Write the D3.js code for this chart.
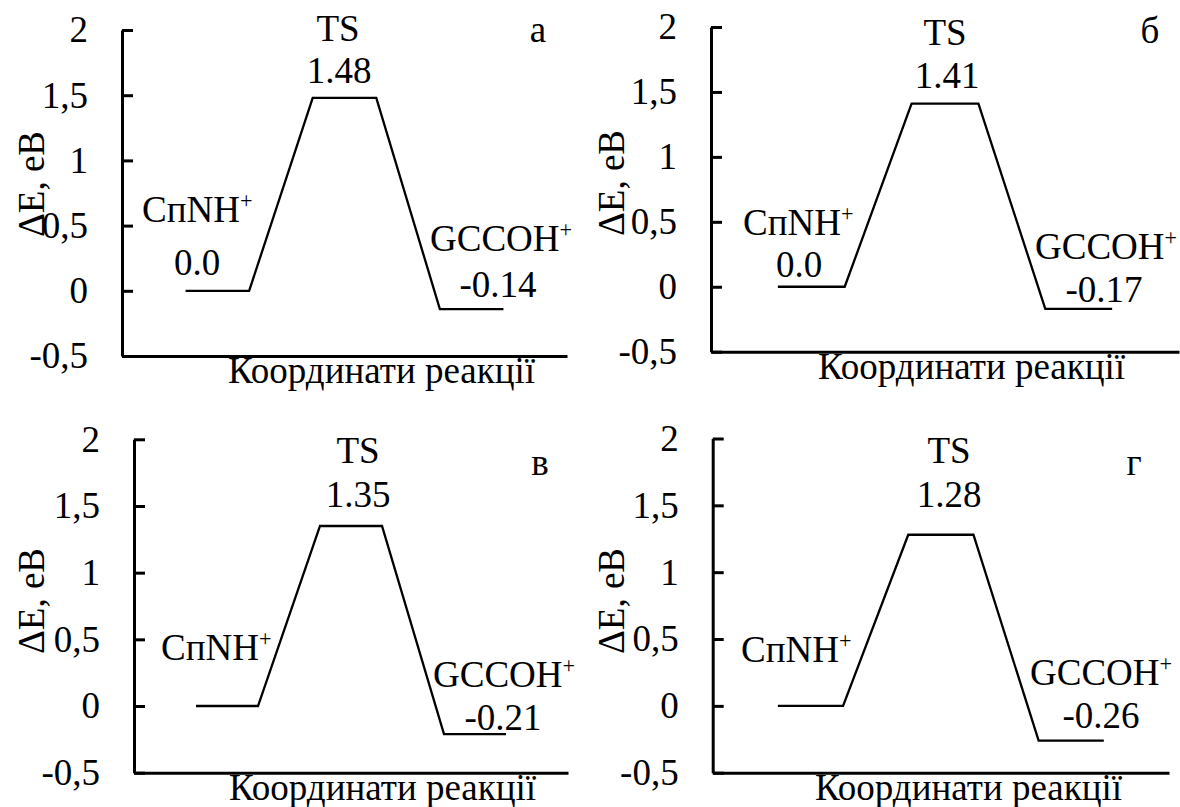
<!DOCTYPE html>
<html>
<head>
<meta charset="utf-8">
<script src="https://cdn.jsdelivr.net/npm/d3@7"></script>
<style>
  html, body { margin: 0; padding: 0; background: #fff; }
  svg { display: block; }
</style>
</head>
<body>
<svg id="chart" width="1180" height="807"></svg>
<script>
// data
const panelLetters = ['а', 'б', 'в', 'г']
const reactantValues = [0, 0, 0, 0]
const tsValues = [1.48, 1.41, 1.35, 1.28]
const productValues = [-0.14, -0.17, -0.21, -0.26]
const reactantLabels = ['0.0', '0.0', null, null]
const yTicks = [-0.5, 0, 0.5, 1, 1.5, 2]
const yTickLabels = ['-0,5', '0', '0,5', '1', '1,5', '2']
const yTitle = 'ΔE, eB'
const xTitle = 'Координати реакції'

// layout of each panel (plot box + text boxes)
const layouts = [
  { x0: 122, x1: 567, yTop: 30, yBot: 356, yT: [44, 184],
    ts: [338, 41], tsVal: [339, 83], letter: [538, 42],
    react: [142, 222], reactVal: [197, 275], prod: [430, 251], prodVal: [498, 297], xT: [228, 383] },
  { x0: 711, x1: 1179, yTop: 27, yBot: 351.7, yT: [624, 183],
    ts: [945, 45], tsVal: [947, 88], letter: [1150, 43],
    react: [743, 235], reactVal: [799, 277], prod: [1035, 259], prodVal: [1104, 302], xT: [818, 379] },
  { x0: 134, x1: 568, yTop: 439.3, yBot: 772.7, yT: [44, 601],
    ts: [358, 463], tsVal: [358, 507], letter: [540, 475],
    react: [161, 660], reactVal: null, prod: [433, 687], prodVal: [503, 730], xT: [229, 800] },
  { x0: 712.7, x1: 1169, yTop: 438.5, yBot: 772.7, yT: [624, 601],
    ts: [949, 463], tsVal: [949, 507], letter: [1134, 475],
    react: [741, 662], reactVal: null, prod: [1030, 685], prodVal: [1101, 728], xT: [815, 800] }
]

const fontSize = 37
const serif = '"Liberation Serif", "Times New Roman", serif'
const svg = d3.select('#chart')
svg.append('rect').attr('width', 1180).attr('height', 807).attr('fill', '#fff')

function label(g, text, pos, anchor) {
  return g.append('text')
    .attr('x', pos[0]).attr('y', pos[1])
    .attr('text-anchor', anchor || 'start')
    .style('font-family', serif)
    .style('font-size', fontSize + 'px')
    .attr('fill', '#000')
    .text(text)
}

function superLabel(g, text, pos) {
  const t = label(g, null, pos)
  t.append('tspan').text(text)
  t.append('tspan').style('font-size', (fontSize * 0.6) + 'px').attr('dy', -14).text('+')
}

layouts.forEach((L, i) => {
  const g = svg.append('g')

  const x = d3.scaleLinear().domain([0, 7]).range([L.x0, L.x1])
  const y = d3.scaleLinear().domain([-0.5, 2]).range([L.yBot, L.yTop])

  // energy profile: reactant, TS, product plateaus
  const levels = [reactantValues[i], tsValues[i], productValues[i]]
  const profile = levels.flatMap(v => [v, v]).map((v, k) => ({ k: k + 1, v }))

  // y axis
  const yAxis = g.append('g')
    .attr('transform', `translate(${L.x0},0)`)
    .call(d3.axisLeft(y)
      .tickValues(yTicks)
      .tickFormat((d, j) => yTickLabels[j])
      .tickSizeInner(-11)
      .tickSizeOuter(0)
      .tickPadding(34))
  yAxis.select('.domain').attr('stroke-width', 3)
  yAxis.selectAll('.tick line').attr('stroke-width', 3)
  yAxis.selectAll('.tick text')
    .style('font-family', serif)
    .style('font-size', fontSize + 'px')
    .attr('fill', '#000')

  // x axis (no ticks)
  const xAxis = g.append('g')
    .attr('transform', `translate(0,${y(-0.5)})`)
    .call(d3.axisBottom(x).tickValues([]).tickSizeOuter(0))
  xAxis.select('.domain').attr('stroke-width', 3)

  g.append('path')
    .datum(profile)
    .attr('fill', 'none')
    .attr('stroke', '#000')
    .attr('stroke-width', 2.3)
    .attr('d', d3.line().x(d => x(d.k)).y(d => y(d.v)))

  // axis titles
  label(g, yTitle, [0, 0], 'middle')
    .attr('transform', `translate(${L.yT[0]},${L.yT[1]}) rotate(-90)`)
  label(g, xTitle, L.xT)

  // annotations
  label(g, 'TS', L.ts, 'middle')
  label(g, tsValues[i].toFixed(2), L.tsVal, 'middle')
  label(g, panelLetters[i], L.letter, 'middle')

  superLabel(g, 'СпNH', L.react)
  if (L.reactVal && reactantLabels[i]) label(g, reactantLabels[i], L.reactVal, 'middle')
  superLabel(g, 'GCCOH', L.prod)
  label(g, productValues[i].toFixed(2), L.prodVal, 'middle')
})
</script>
</body>
</html>
